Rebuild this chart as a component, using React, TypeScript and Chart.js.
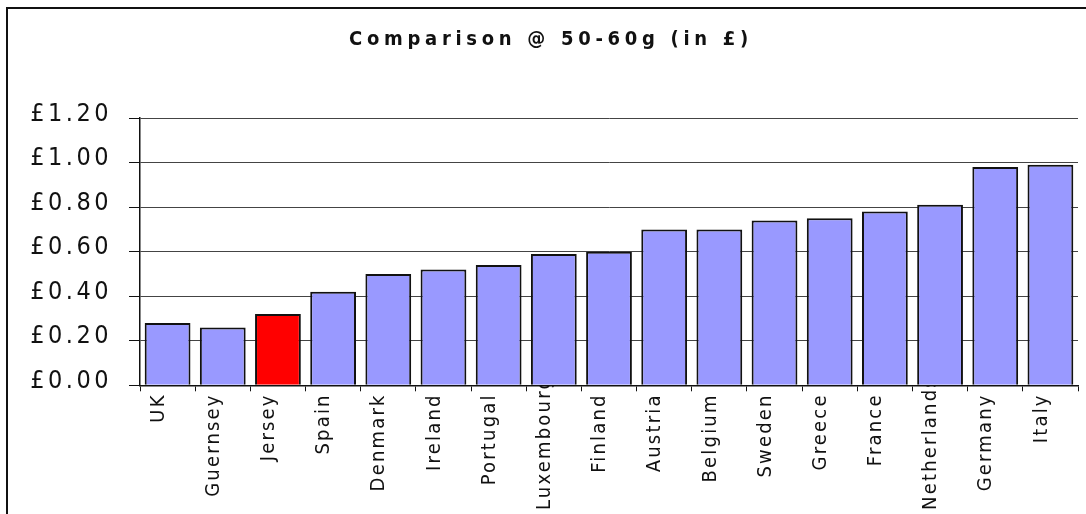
import React, { useEffect, useRef } from "react";
import { Chart, registerables } from "chart.js";

Chart.register(...registerables);

const categories = [
  "UK", "Guernsey", "Jersey", "Spain", "Denmark", "Ireland", "Portugal",
  "Luxembourg", "Finland", "Austria", "Belgium", "Sweden", "Greece",
  "France", "Netherlands", "Germany", "Italy",
];
const prices = [
  0.28, 0.26, 0.32, 0.42, 0.5, 0.52, 0.54, 0.59, 0.6, 0.7, 0.7, 0.74, 0.75,
  0.78, 0.81, 0.98, 0.99,
];
const highlighted = "Jersey";
const yTickLabels = ["£0.00", "£0.20", "£0.40", "£0.60", "£0.80", "£1.00", "£1.20"];
const titleText = "Comparison @ 50-60g (in £)";

const FONT = "'DejaVu Sans Condensed', 'DejaVu Sans', sans-serif";
const X_SPACING = "2.2px";
const LABEL_LIMIT = 510;

const spacingPlugin = {
  id: "letterSpacing",
  beforeDraw(chart: any) {
    const wrap = (obj: any, key: string, sp: string, dx: number) => {
      if (!obj || obj["__w_" + key]) return;
      const orig = obj[key];
      obj[key] = function (...args: any[]) {
        const ctx: any = chart.ctx;
        ctx.save();
        ctx.letterSpacing = sp;
        if (dx) ctx.translate(dx, 0);
        try {
          return orig.apply(this, args);
        } finally {
          ctx.restore();
        }
      };
      obj["__w_" + key] = true;
    };
    const xs = chart.scales.x;
    if (xs && !xs.__wItems) {
      const origGet = xs.getLabelItems;
      xs.getLabelItems = function (...args: any[]) {
        const items = origGet.apply(this, args);
        if (items && !items.__adj) {
          const ctx: any = chart.ctx;
          ctx.save();
          ctx.letterSpacing = X_SPACING;
          items.forEach((it: any) => {
            ctx.font = it.font.string;
            const w = ctx.measureText(String(it.label)).width;
            const tr = it.options.translation;
            const bottom = tr[1] + w;
            if (bottom > LABEL_LIMIT) tr[1] -= bottom - LABEL_LIMIT;
          });
          ctx.restore();
          items.__adj = true;
        }
        return items;
      };
      xs.__wItems = true;
    }
    wrap(chart.scales.x, "drawLabels", X_SPACING, 0);
    wrap(chart.scales.y, "drawLabels", "3.5px", 0);
    wrap(chart.titleBlock, "draw", "4.7px", 12);
  },
};

export default function App() {
  const ref = useRef<HTMLCanvasElement | null>(null);
  useEffect(() => {
    if (!ref.current) return;
    const chart = new Chart(ref.current, {
      type: "bar",
      data: {
        labels: categories,
        datasets: [
          {
            data: prices,
            backgroundColor: categories.map((c) => (c === highlighted ? "#FF0000" : "#9999FF")),
            borderColor: "#111111",
            borderWidth: 2,
            barPercentage: 0.83,
            categoryPercentage: 1,
          },
        ],
      },
      options: {
        animation: false,
        responsive: false,
        maintainAspectRatio: false,
        devicePixelRatio: 1,
        layout: { padding: { left: 0, right: 8, top: 0, bottom: 0 } },
        plugins: {
          legend: { display: false },
          tooltip: { enabled: false },
          title: {
            display: true,
            text: titleText,
            color: "#111",
            font: { family: FONT, size: 20, weight: "bold", lineHeight: 1.2 },
            padding: { top: 28, bottom: 66 },
          },
        },
        scales: {
          x: {
            offset: true,
            grid: {
              offset: true,
              drawOnChartArea: true,
              drawTicks: true,
              tickLength: 6,
              color: (ctx: any) => (ctx.index === categories.length ? "#888888" : "rgba(0,0,0,0)"),
              tickColor: "#111",
              lineWidth: 1,
            },
            border: { display: true, color: "#111", width: 1.5 },
            ticks: {
              z: 1,
              autoSkip: false,
              minRotation: 90,
              maxRotation: 90,
              padding: 2,
              labelOffset: -9,
              color: "#111",
              font: { family: FONT, size: 20 },
            },
            afterFit: (s: any) => {
              s.height = 128.7;
            },
          },
          y: {
            min: 0,
            max: 1.2,
            ticks: {
              stepSize: 0.2,
              padding: 17,
              labelOffset: -4,
              color: "#111",
              font: { family: FONT, size: 25 },
              callback: (_v: any, i: number) => yTickLabels[i],
            },
            grid: {
              color: "#444",
              tickColor: "#111",
              tickLength: 11,
              lineWidth: 1,
            },
            border: { display: true, color: "#111", width: 1.5 },
            afterFit: (s: any) => {
              s.width = 140;
            },
          },
        },
      },
      plugins: [spacingPlugin],
    });
    return () => chart.destroy();
  }, []);

  return (
    <div
      style={{
        position: "fixed",
        left: 0,
        top: 0,
        width: 1086,
        height: 514,
        overflow: "hidden",
        background: "#fff",
      }}
    >
      <canvas ref={ref} width={1086} height={514} style={{ position: "absolute", left: 0, top: 0 }} />
      <div
        style={{
          position: "absolute",
          left: 6,
          top: 7,
          width: 1200,
          height: 700,
          border: "2px solid #111",
          pointerEvents: "none",
        }}
      />
    </div>
  );
}
